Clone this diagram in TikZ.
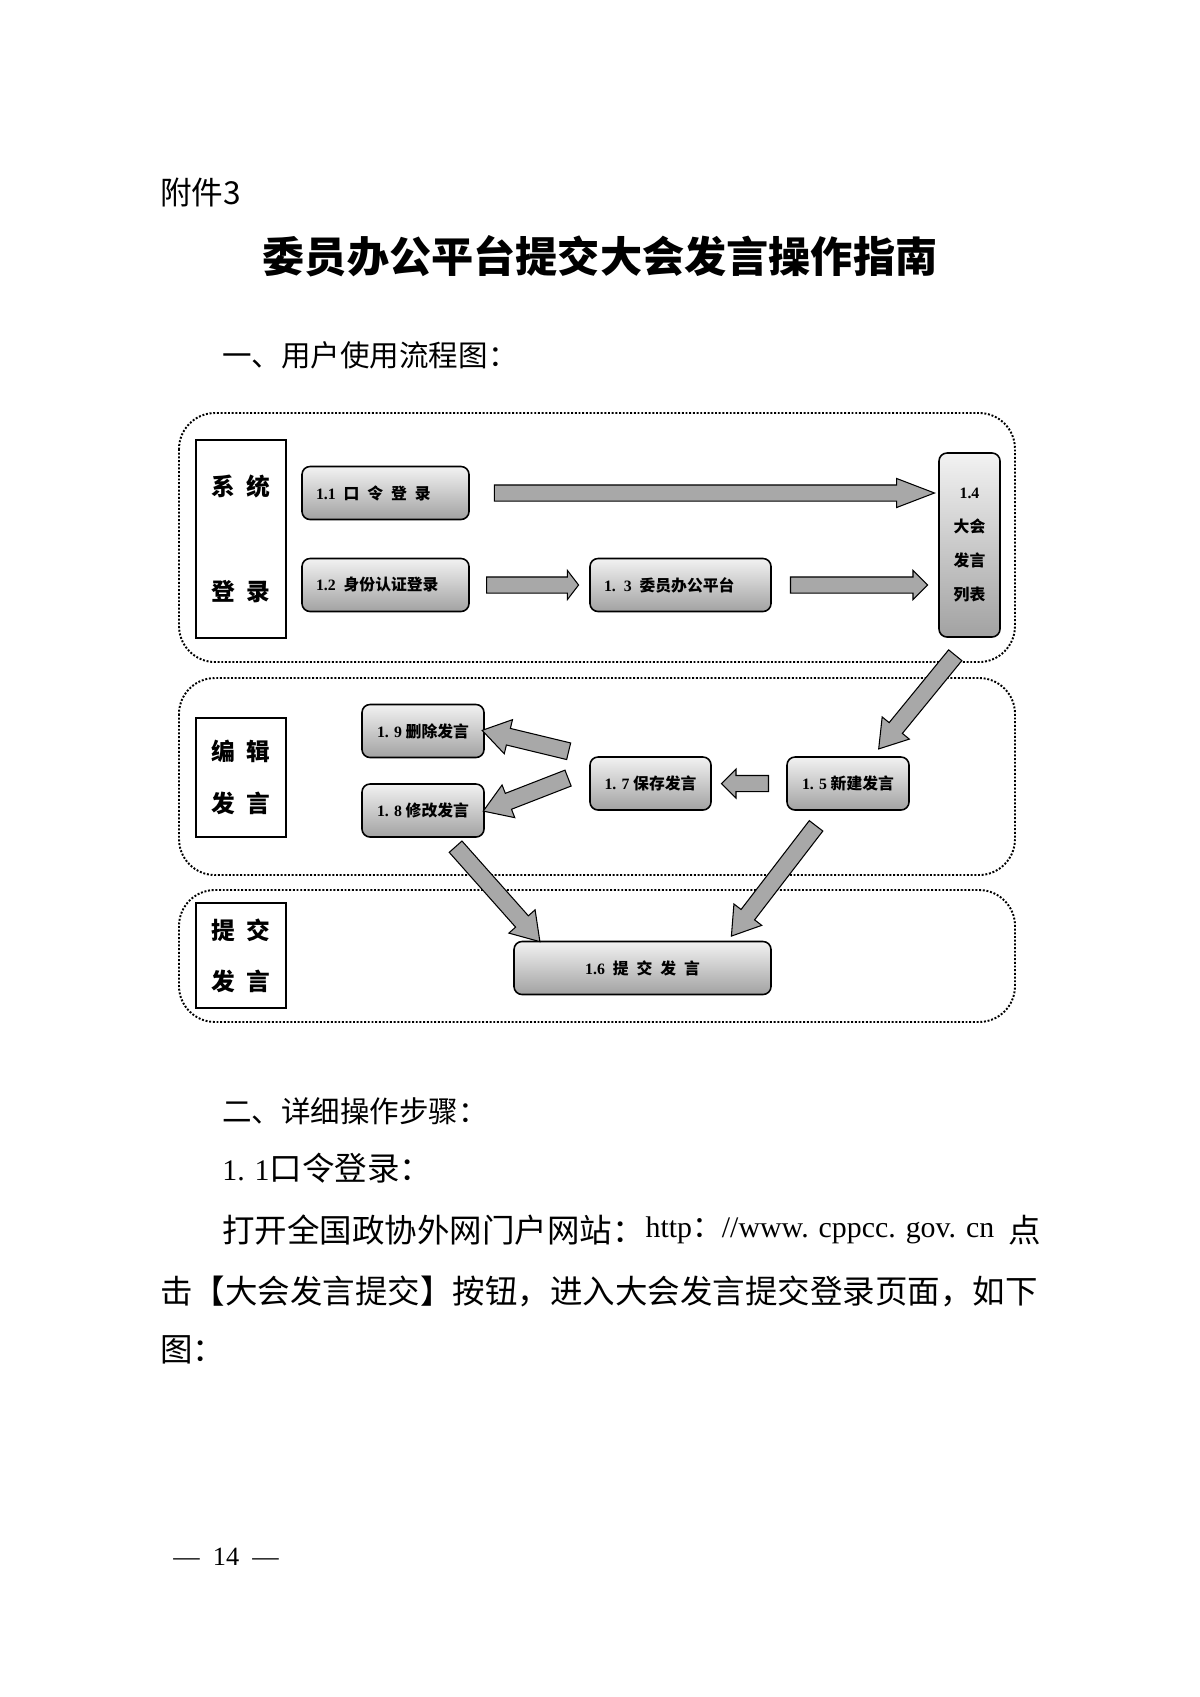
\documentclass[tikz,border=0pt]{standalone}
\usepackage{fontspec}
\setmainfont{Liberation Serif}
\newfontfamily\hei{Noto Sans CJK SC}
\usepackage{tikz}
\usetikzlibrary{shapes.arrows, positioning, calc}
\usepackage{xcolor}
\definecolor{boxtop}{HTML}{F2F2F2}
\definecolor{boxbot}{HTML}{A2A2A2}
\definecolor{arrowfill}{HTML}{A8A8A8}
\newlength\pxu
\setlength\pxu{0.02cm}

\begin{document}
\begin{tikzpicture}[x=0.02cm, y=-0.02cm,
    stepbox/.style={draw=black, line width=0.9pt, rounded corners=8\pxu, top color=boxtop, bottom color=boxbot, minimum height=53\pxu, inner sep=0pt, font=\hei\bfseries\fontsize{9pt}{11pt}\selectfont},
    leftbox/.style={stepbox, align=left, inner xsep=14\pxu},
    lanebox/.style={draw=black, line width=1.3pt, fill=white, minimum width=90\pxu, align=center, font=\hei\bfseries\fontsize{13.5pt}{16pt}\selectfont},
    lane/.style={draw=black, densely dotted, line width=1.1pt, rounded corners=36\pxu},
    blk/.style={single arrow, draw=black, line width=0.6pt, fill=arrowfill, inner sep=7.5\pxu, single arrow head extend=6.5\pxu, single arrow tip angle=90, single arrow head indent=0pt, sloped, allow upside down},
    diagarrow/.style={blk, inner sep=8\pxu, single arrow head extend=9\pxu, single arrow tip angle=66},
    body/.style={inner sep=0pt, anchor=west, font=\hei\fontsize{18.5pt}{22pt}\selectfont}]
    \path[use as bounding box, fill=white] (0,0) rectangle (1200,1697);

    \node[body, font=\hei\fontsize{18pt}{20pt}\selectfont] (fujian) at (160,192) {附件3};
    \node[inner sep=0pt, font=\hei\bfseries\fontsize{24pt}{28pt}\selectfont] (title) at (600,256) {委员办公平台提交大会发言操作指南};
    \node[body, font=\hei\fontsize{16.8pt}{20pt}\selectfont] (sec1) at (222,355) {一、用户使用流程图：};

    \draw[lane] (179,413) rectangle (1015,662);
    \draw[lane] (179,678) rectangle (1015,875);
    \draw[lane] (179,890) rectangle (1015,1022);

    \node[lanebox, minimum height=198\pxu] (lab1) at (241,539) {系\enspace 统\\[43.6pt]登\enspace 录};
    \node[lanebox, minimum height=119\pxu] (lab2) at (241,777.5) {编\enspace 辑\\[14pt]发\enspace 言};
    \node[lanebox, minimum height=105\pxu] (lab3) at (241,955.5) {提\enspace 交\\[13pt]发\enspace 言};

    \node[leftbox, text width=139\pxu] (n11) at (385.5,493) {\textrm{1.1}\enspace 口\enspace 令\enspace 登\enspace 录};
    \node[leftbox, text width=139\pxu] (n12) at (385.5,585) {\textrm{1.2}\enspace 身份认证登录};
    \node[leftbox, text width=153\pxu] (n13) at (680.5,585) {\textrm{1. 3}\enspace 委员办公平台};
    \node[stepbox, minimum width=61\pxu, minimum height=184\pxu, align=center, font=\hei\bfseries\fontsize{9pt}{19.3pt}\selectfont] (n14) at (969.5,545) {\textrm{1.4}\\大会\\发言\\列表};
    \node[stepbox, minimum width=122\pxu] (n15) at (848,783.5) {\textrm{1. 5} 新建发言};
    \node[stepbox, minimum width=121\pxu] (n17) at (650.5,783.5) {\textrm{1. 7} 保存发言};
    \node[stepbox, minimum width=122\pxu] (n19) at (423,731) {\textrm{1. 9} 删除发言};
    \node[stepbox, minimum width=122\pxu] (n18) at (423,810.5) {\textrm{1. 8} 修改发言};
    \node[stepbox, minimum width=257\pxu] (n16) at (642.5,968) {\textrm{1.6}\enspace 提\enspace 交\enspace 发\enspace 言};

    \path (n11.east) -- node[blk, minimum height=440\pxu, single arrow tip angle=42] {} (n11.east -| n14.west);
    \path (n12.east) -- node[blk, minimum height=92\pxu, single arrow tip angle=105] {} (n13.west);
    \path (n13.east) -- node[blk, minimum height=137\pxu] {} (n13.east -| n14.west);
    \path (n14.south) -- node[diagarrow, minimum height=121\pxu] {} ($(n15.north)!0.4!(n15.north east)$);
    \path (n15.west) -- node[blk, minimum height=47\pxu] {} (n17.east);
    \path (n17.north west) -- node[diagarrow, pos=0.55, minimum height=89\pxu] {} (n19.east);
    \path ($(n17.west)!0.5!(n17.north west)$) -- node[diagarrow, pos=0.55, minimum height=91\pxu] {} (n18.east);
    \path ($(n18.south)!0.4!(n18.south east)$) -- node[diagarrow, minimum height=127\pxu] {} ($(n16.north west)!0.1!(n16.north east)$);
    \path ($(n15.south)!0.33!(n15.south west)$) -- node[diagarrow, minimum height=139\pxu] {} ($(n16.north east)!0.17!(n16.north west)$);

    \node[body, font=\hei\fontsize{16.8pt}{20pt}\selectfont] (sec2) at (222,1111) {二、详细操作步骤：};
    \node[body] (step11) at (222,1168) {\textrm{\fontsize{17pt}{20pt}\selectfont 1. 1}口令登录：};
    \node[body] (p1a) at (222,1230) {打开全国政协外网门户网站：};
    \node[body, right=0pt of p1a, font=\fontsize{17pt}{20pt}\selectfont] (url) {http{\hei ：}//www. cppcc. gov. cn};
    \node[body, anchor=east] (p1b) at (1041,1230) {点};
    \node[body] (p2) at (160,1291) {击【大会发言提交】按钮，进入大会发言提交登录页面，如下};
    \node[body] (p3) at (160,1350) {图：};
    \node[body, font=\fontsize{15pt}{17pt}\selectfont] (pageno) at (173,1557) {—\enspace 14\enspace —};
\end{tikzpicture}
\end{document}
